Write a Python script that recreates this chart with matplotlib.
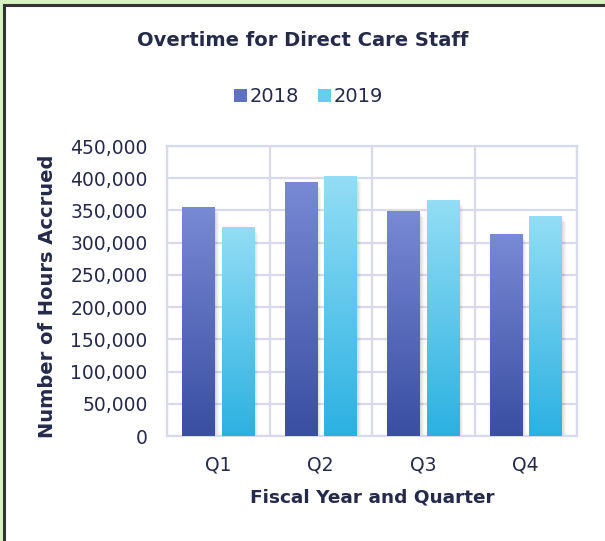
import numpy as np
import matplotlib.pyplot as plt
from matplotlib.colors import LinearSegmentedColormap
from matplotlib.patches import Rectangle
from matplotlib.ticker import FuncFormatter

# data
quarters = ["Q1", "Q2", "Q3", "Q4"]
years = ["2018", "2019"]
hours_2018 = [354000, 393000, 348000, 312000]
hours_2019 = [323000, 402000, 365000, 340000]

txt = "#262a4a"
grid_c = "#d9d9ec"
cmaps = [
    LinearSegmentedColormap.from_list("c18", ["#3a4ea2", "#7889d5"]),
    LinearSegmentedColormap.from_list("c19", ["#2bb1e1", "#93ddf5"]),
]
plt.rcParams['font.family'] = ['DejaVu Sans']

fig = plt.figure(figsize=(6.05, 5.41), dpi=100)
fig.patch.set_facecolor("#d8f2c2")
# white card with dark border
fig.patches.append(Rectangle((4 / 605, -0.05), 1.2, (541 - 5) / 541 + 0.05,
                             transform=fig.transFigure, facecolor="white",
                             edgecolor="#333333", linewidth=2.2, zorder=-5))

ax = fig.add_axes([167 / 605, 105 / 541, 410 / 605, 290 / 541])
ax.set_facecolor("none")

x = np.arange(len(quarters))
bw = 0.315
gap = 0.07
offsets = [-(bw + gap) / 2, (bw + gap) / 2]
grad = np.linspace(0, 1, 256).reshape(-1, 1)

for s, vals in enumerate([hours_2018, hours_2019]):
    for xi, v in zip(x, vals):
        x0 = xi + offsets[s] - bw / 2
        # soft shadow
        for k in range(1, 5):
            ax.add_patch(Rectangle((x0 + 0.006 * k, -3000 * k), bw + 0.004 * k, v + 1000 * k,
                                   facecolor="black", alpha=0.035, linewidth=0, zorder=2))
        ax.imshow(grad, extent=[x0, x0 + bw, 0, v], origin="lower", aspect="auto",
                  cmap=cmaps[s], zorder=3)

ax.set_xlim(-0.5, 3.5)
ax.set_ylim(0, 450000)
ax.set_yticks(np.arange(0, 450001, 50000))
ax.yaxis.set_major_formatter(FuncFormatter(lambda v, p: f"{int(v):,}"))
ax.set_xticks(x)
ax.set_xticklabels(quarters)
ax.set_xticks(np.arange(-0.5, 3.6, 1), minor=True)
ax.grid(True, axis="y", which="major", color=grid_c, linewidth=1.6, zorder=1)
ax.grid(True, axis="x", which="minor", color=grid_c, linewidth=1.6, zorder=1)
ax.set_axisbelow(True)
for sp in ax.spines.values():
    sp.set_color(grid_c)
    sp.set_linewidth(1.6)
ax.tick_params(which="both", length=0, colors=txt, labelsize=13.5)
ax.tick_params(axis="x", pad=14)
ax.tick_params(axis="y", pad=14)

ax.set_xlabel("Fiscal Year and Quarter", fontsize=13.3, fontweight="bold", color=txt, labelpad=10)
ax.set_ylabel("Number of Hours Accrued", fontsize=14, fontweight="bold", color=txt)
ax.yaxis.set_label_coords(-0.268, 0.48)

fig.text(0.5, 1 - 41 / 541, "Overtime for Direct Care Staff", ha="center", va="center",
         fontsize=14, fontweight="bold", color=txt)

handles = [Rectangle((0, 0), 1, 1, facecolor=c(0.6)) for c in cmaps]
fig.legend(handles, years, loc="center", bbox_to_anchor=(0.51, 1 - 97 / 541), ncol=2,
           frameon=False, fontsize=14, handlelength=0.65, handleheight=0.65,
           handletextpad=0.15, columnspacing=1.0, labelcolor=txt)

fig.savefig("out.png", dpi=100, facecolor=fig.get_facecolor())
